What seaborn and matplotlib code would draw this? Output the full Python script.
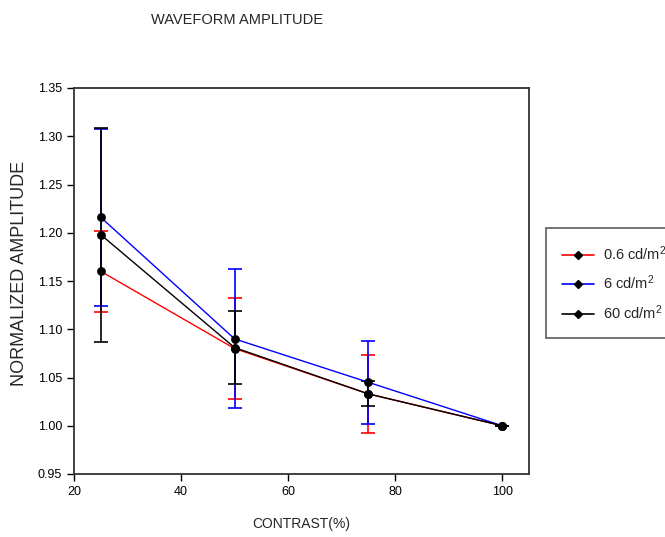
import matplotlib
matplotlib.use("Agg")
import matplotlib.pyplot as plt
import seaborn as sns
import pandas as pd
from matplotlib.lines import Line2D

contrast = [25, 50, 75, 100]
series = ["0.6 cd/m$^{2}$", "6 cd/m$^{2}$", "60 cd/m$^{2}$"]
colors = ["red", "blue", "black"]

amp_06 = [1.160, 1.080, 1.033, 1.000]
amp_6 = [1.216, 1.090, 1.045, 1.000]
amp_60 = [1.198, 1.081, 1.033, 1.000]

err_06 = [0.042, 0.052, 0.040, 0.0]
err_6 = [0.092, 0.072, 0.043, 0.0]
err_60 = [0.111, 0.038, 0.013, 0.0]

amps = [amp_06, amp_6, amp_60]
errs = [err_06, err_6, err_60]

rows = []
for name, a, e in zip(series, amps, errs):
    for c, v, s in zip(contrast, a, e):
        rows.append({"Contrast": c, "Amplitude": v, "Err": s, "Series": name})
df = pd.DataFrame(rows)

sns.set_style("white")
plt.rcParams["font.family"] = ["Liberation Sans", "DejaVu Sans"]
plt.rcParams["mathtext.fontset"] = "custom"
plt.rcParams["mathtext.rm"] = "Liberation Sans"
plt.rcParams["mathtext.it"] = "Liberation Sans"

fig = plt.figure(figsize=(6.65, 5.37), dpi=100)
ax = fig.add_axes([74 / 665, 1 - 474 / 537, (529 - 74) / 665, (474 - 88) / 537])

# error bars first, then lines on top
for name, col in zip(series, colors):
    d = df[df["Series"] == name]
    ax.errorbar(d["Contrast"], d["Amplitude"], yerr=d["Err"], fmt="none",
                ecolor=col, elinewidth=1.2, capsize=5, capthick=1.2, zorder=2)

sns.lineplot(data=df, x="Contrast", y="Amplitude", hue="Series",
             palette=colors, hue_order=series, ax=ax, legend=False,
             linewidth=1.0, zorder=3)
sns.scatterplot(data=df, x="Contrast", y="Amplitude", color="black",
                marker="o", s=34, ax=ax, legend=False, zorder=4,
                edgecolor="black")

ax.set_xlim(20, 105)
ax.set_ylim(0.95, 1.35)
ax.set_xticks([20, 40, 60, 80, 100])
ax.set_yticks([0.95, 1.00, 1.05, 1.10, 1.15, 1.20, 1.25, 1.30, 1.35])
ax.set_yticklabels([f"{v:.2f}" for v in ax.get_yticks()])
ax.tick_params(axis="both", direction="out", length=5, width=1, labelsize=9,
               left=True, bottom=True, colors="black")
for sp in ax.spines.values():
    sp.set_color("#333333")
    sp.set_linewidth(1.3)

ax.set_xlabel("CONTRAST(%)", fontsize=10, labelpad=14)
ax.set_ylabel("NORMALIZED AMPLITUDE", fontsize=13)
ax.yaxis.set_label_coords(-0.10, 0.52)

fig.text(237 / 665, 1 - 20 / 537, "WAVEFORM AMPLITUDE", ha="center",
         va="center", fontsize=10.5)

handles = [Line2D([0], [0], color=c, marker="D", markersize=4.5,
                  markerfacecolor="black", markeredgecolor="black", lw=1.2)
           for c in colors]
leg = fig.legend(handles, series, loc="upper left",
                 bbox_to_anchor=(546 / 665, 1 - 228 / 537), fontsize=10.5,
                 frameon=True, fancybox=False, borderpad=1.1,
                 borderaxespad=0, handlelength=2.2, handletextpad=0.6,
                 labelspacing=0.75)
leg.get_frame().set_edgecolor("#333333")
leg.get_frame().set_linewidth(1.2)

fig.savefig("out.png", dpi=100)
